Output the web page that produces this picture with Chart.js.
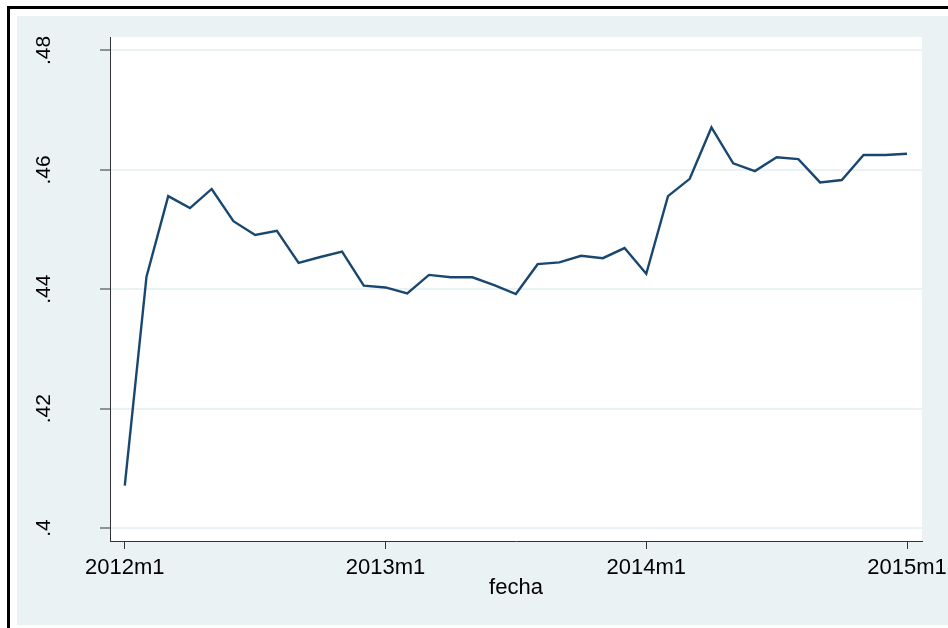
<!DOCTYPE html>
<html>
<head>
<meta charset="utf-8">
<script src="https://cdn.jsdelivr.net/npm/chart.js@4/dist/chart.umd.min.js"></script>
<style>
  html, body { margin: 0; padding: 0; background: #ffffff; }
  #wrap { position: relative; width: 948px; height: 628px; }
</style>
</head>
<body>
<div id="wrap"><canvas id="c" width="948" height="628"></canvas></div>
<script>
// ---- data ----
const months = [
  '2012m1','2012m2','2012m3','2012m4','2012m5','2012m6','2012m7','2012m8','2012m9','2012m10','2012m11','2012m12',
  '2013m1','2013m2','2013m3','2013m4','2013m5','2013m6','2013m7','2013m8','2013m9','2013m10','2013m11','2013m12',
  '2014m1','2014m2','2014m3','2014m4','2014m5','2014m6','2014m7','2014m8','2014m9','2014m10','2014m11','2014m12',
  '2015m1'
];
const values = [
  0.4071, 0.4421, 0.4556, 0.4536, 0.4568, 0.4514, 0.4491, 0.4498, 0.4444, 0.4454, 0.4463, 0.4406,
  0.4403, 0.4393, 0.4424, 0.4420, 0.4420, 0.4407, 0.4392, 0.4442, 0.4445, 0.4456, 0.4452, 0.4469,
  0.4426, 0.4556, 0.4585, 0.4671, 0.4611, 0.4598, 0.4621, 0.4618, 0.4579, 0.4583, 0.4625, 0.4625,
  0.4627
];
const xTickIndex = [0, 12, 24, 36];
const xTickLabels = ['2012m1', '2013m1', '2014m1', '2015m1'];
const yTickValues = [0.40, 0.42, 0.44, 0.46, 0.48];
const yTickLabels = ['.4', '.42', '.44', '.46', '.48'];
const xTitle = 'fecha';

// ---- styling ----
const BG = '#eaf2f3';
const LINE = '#1a476f';
const AXIS = '#333333';
const FONT = 'Liberation Sans, Arial, Helvetica, sans-serif';

const frame = {
  id: 'frame',
  beforeDraw(chart) {
    const ctx = chart.ctx;
    const a = chart.chartArea;
    ctx.save();
    ctx.fillStyle = '#ffffff';
    ctx.fillRect(0, 0, chart.width, chart.height);
    ctx.fillStyle = '#000000';
    ctx.fillRect(7, 6, 3, chart.height - 6);
    ctx.fillRect(7, 6, chart.width - 7, 3);
    ctx.fillStyle = BG;
    ctx.fillRect(17, 16, chart.width - 17, 609);
    ctx.fillStyle = '#ffffff';
    ctx.fillRect(a.left, a.top, a.right - a.left, a.bottom - a.top);
    ctx.restore();
  }
};

const points = values.map((v, i) => ({ x: i, y: v }));

new Chart(document.getElementById('c'), {
  type: 'line',
  data: {
    datasets: [{
      label: 'serie',
      data: points,
      borderColor: LINE,
      borderWidth: 2.4,
      pointRadius: 0,
      tension: 0,
      fill: false
    }]
  },
  options: {
    responsive: false,
    devicePixelRatio: 1,
    animation: false,
    layout: { padding: { top: 37, right: 26, bottom: 0, left: 0 } },
    plugins: { legend: { display: false }, tooltip: { enabled: false } },
    scales: {
      x: {
        type: 'linear',
        min: -0.68,
        max: 36.69,
        afterBuildTicks(scale) { scale.ticks = xTickIndex.map(v => ({ value: v })); },
        afterFit(scale) { scale.height = 87; scale.paddingLeft = 0; scale.paddingRight = 0; },
        ticks: {
          autoSkip: false,
          maxRotation: 0,
          minRotation: 0,
          padding: 6,
          color: '#000000',
          font: { family: FONT, size: 22 },
          callback(value) {
            const k = xTickIndex.indexOf(value);
            return k >= 0 ? xTickLabels[k] : '';
          }
        },
        grid: { display: true, drawOnChartArea: false, tickLength: 8, tickColor: AXIS, tickWidth: 1 },
        border: { display: true, color: AXIS, width: 1 },
        title: {
          display: true,
          text: xTitle,
          color: '#000000',
          font: { family: FONT, size: 22 },
          padding: { top: 27, bottom: 27 }
        }
      },
      y: {
        type: 'linear',
        min: 0.39782,
        max: 0.48226,
        afterBuildTicks(scale) { scale.ticks = yTickValues.map(v => ({ value: v })); },
        afterFit(scale) { scale.width = 110; scale.paddingTop = 0; scale.paddingBottom = 0; },
        ticks: {
          autoSkip: false,
          minRotation: 90,
          maxRotation: 90,
          crossAlign: 'center',
          padding: 41,
          color: '#000000',
          font: { family: FONT, size: 21 },
          callback(value) {
            const k = yTickValues.findIndex(t => Math.abs(t - value) < 1e-9);
            return k >= 0 ? yTickLabels[k] : '';
          }
        },
        grid: { color: BG, lineWidth: 2, tickLength: 10, tickColor: AXIS, tickWidth: 1 },
        border: { display: true, color: AXIS, width: 1 }
      }
    }
  },
  plugins: [frame]
});
</script>
</body>
</html>
